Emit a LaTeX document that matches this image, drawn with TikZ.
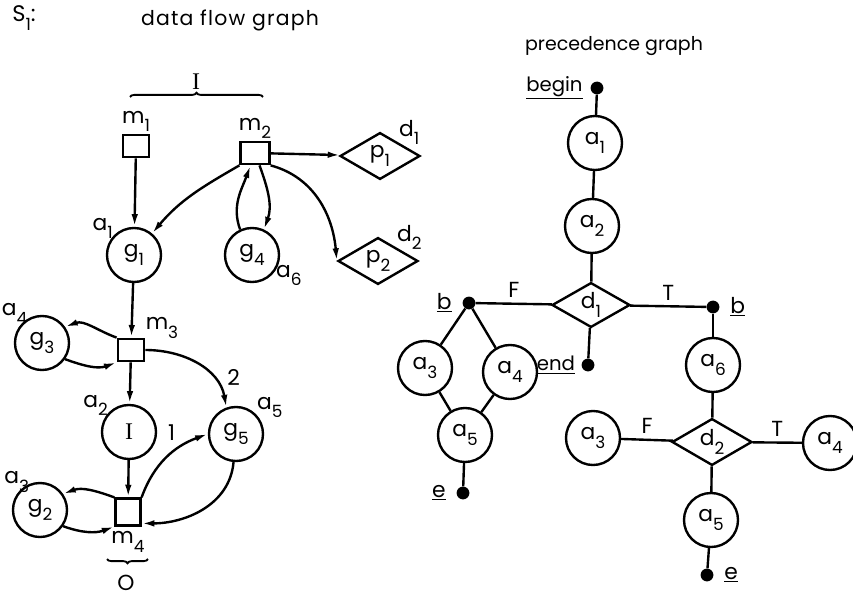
\documentclass[tikz,border=0pt]{standalone}
\usepackage{fontspec}
\setmainfont{Poppins}
\newfontfamily\romanfont{Liberation Serif}
\usetikzlibrary{arrows.meta,shapes.geometric,decorations.pathreplacing}
\newcommand{\ix}[2]{#1\raisebox{-0.7ex}{\fontsize{12}{13}\selectfont #2}}
\newcommand{\romI}{{\romanfont\fontsize{17}{18}\selectfont I}}

\begin{document}
\begin{tikzpicture}[
  x=0.025cm, y=-0.025cm,
  every node/.style={font=\fontsize{15.5}{17}\selectfont},
  heading/.style={font=\fontsize{14.5}{16}\selectfont\addfontfeatures{LetterSpace=6}},
  word/.style={font=\fontsize{14}{15}\selectfont},
  flow/.style={-{Latex[length=9pt,width=4.6pt]}, line width=1.7pt},
  link/.style={line width=1.7pt},
  op/.style={circle, draw, line width=1.7pt, minimum size=1.35cm, inner sep=0pt},
  mem/.style={rectangle, draw, line width=1.7pt, minimum width=0.66cm, minimum height=0.56cm, inner sep=0pt},
  test/.style={diamond, draw, line width=1.7pt, aspect=1.7, minimum width=2cm, minimum height=1.17cm, inner sep=0pt},
  dot/.style={circle, fill, inner sep=0pt, minimum size=0.32cm},
  brace/.style={decorate, decoration={brace, amplitude=3pt}, line width=1.3pt}
]
\useasboundingbox (0,0) rectangle (853,597);

\node[font=\fontsize{16}{17}\selectfont] (s1) at (24,18) {\ix{S}{1}:};
\node[heading] (dfg) at (230,20) {data flow graph};
\node[font=\fontsize{13.5}{16}\selectfont] (pg) at (614,46) {precedence graph};

% data flow graph
\node (inp) at (196,82) {\romI};
\draw[brace] (130,97) -- (263,97);

\node[mem, label={[label distance=-2pt]above:\ix{m}{1}}] (m1) at (136,146) {};
\node[mem, minimum width=0.72cm, label={[label distance=-2pt]above:\ix{m}{2}}] (m2) at (255,153) {};
\node[test, label={[label distance=-7pt]25:\ix{d}{1}}] (p1) at (380,156) {\ix{p}{1}};
\node[test, label={[label distance=-7pt]25:\ix{d}{2}}] (p2) at (378,261) {\ix{p}{2}};
\node[op, label={[label distance=-6pt]145:\ix{a}{1}}] (g1) at (134,255) {\ix{g}{1}};
\node[op, label={[label distance=-6pt]-15:\ix{a}{6}}] (g4) at (252,255) {\ix{g}{4}};
\node[mem, label={[label distance=-4pt]35:\ix{m}{3}}] (m3) at (131,350) {};
\node[op, label={[label distance=-8pt]125:\ix{a}{4}}] (g3) at (42,343) {\ix{g}{3}};
\node[op, label={[label distance=-6pt]145:\ix{a}{2}}] (ident) at (129,432) {\romI};
\node[op, label={[label distance=-6pt]35:\ix{a}{5}}] (g5) at (236,434) {\ix{g}{5}};
\node[mem, minimum width=0.62cm, minimum height=0.67cm, label={[label distance=0pt]below:\ix{m}{4}}] (m4) at (128,512) {};
\node[op, label={[label distance=-10pt]115:\ix{a}{3}}] (g2) at (40,510) {\ix{g}{2}};
\draw[brace] (148,559) -- (107,559);
\node[inner sep=0pt] (outp) at (126,583) {O};

\draw[flow] (m1) -- (g1);
\draw[flow] (m2.south west) to[out=210,in=50] (g1.50);
\draw[flow] (g4.115) to[out=110,in=250] (m2.250);
\draw[flow] (m2.290) to[out=-70,in=70] (g4.65);
\draw[flow] (m2) -- (p1);
\draw[flow] (m2.south east) to[out=-15,in=95] (p2.west);
\draw[flow] (g1) -- (m3);
\draw[flow] (m3.north west) to[out=160,in=20] (g3.35);
\draw[flow] (g3.-35) to[out=-20,in=200] (m3.south west);
\draw[flow] (m3) -- (ident);
\draw[flow] (m3.east) to[out=0,in=100] node[pos=0.85, above right] {2} (g5.110);
\draw[flow] (ident) -- (m4);
\draw[flow] (m4.north east) to[out=70,in=200] node[pos=0.7, above left] {1} (g5.west);
\draw[flow] (g5.265) to[out=-95,in=0] (m4.-40);
\draw[flow] (m4.north west) to[out=160,in=20] (g2.35);
\draw[flow] (g2.-35) to[out=-20,in=200] (m4.south west);

% precedence graph
\node[dot, label={[word, label distance=2pt]left:\underline{begin}}] (begin) at (597,88) {};
\node[op] (pa1) at (595,143) {\ix{a}{1}};
\node[op] (pa2) at (592,226) {\ix{a}{2}};
\node[test, minimum width=1.95cm, minimum height=1.12cm] (pd1) at (591,305) {\ix{d}{1}};
\node[dot, label={[label distance=4pt]left:\underline{b}}] (lb) at (469,303) {};
\node[dot, label={[label distance=4pt]right:\underline{b}}] (rb) at (713,307) {};
\node[dot, label={[word, label distance=1pt]left:\underline{end}}] (endpt) at (588,365) {};
\node[op] (la3) at (425,368) {\ix{a}{3}};
\node[op] (la4) at (510,372) {\ix{a}{4}};
\node[op] (la5) at (465,435) {\ix{a}{5}};
\node[dot, label={[label distance=4pt]left:\underline{e}}] (le) at (463,493) {};
\node[op] (ra6) at (713,365) {\ix{a}{6}};
\node[test] (pd2) at (712,442) {\ix{d}{2}};
\node[op] (ra3) at (593,438) {\ix{a}{3}};
\node[op] (ra4) at (830,443) {\ix{a}{4}};
\node[op] (ra5) at (711,520) {\ix{a}{5}};
\node[dot, label={[label distance=4pt]right:\underline{e}}] (re) at (707,575) {};

\draw[link] (begin) -- (pa1);
\draw[link] (pa1) -- (pa2);
\draw[link] (pa2) -- (pd1);
\draw[link] (pd1) -- node[above] {F} (lb);
\draw[link] (pd1) -- node[above] {T} (rb);
\draw[link] (pd1) -- (endpt);
\draw[link] (lb) -- (la3);
\draw[link] (lb) -- (la4);
\draw[link] (la3) -- (la5);
\draw[link] (la4) -- (la5);
\draw[link] (la5) -- (le);
\draw[link] (rb) -- (ra6);
\draw[link] (ra6) -- (pd2);
\draw[link] (pd2) -- node[above] {F} (ra3);
\draw[link] (pd2) -- node[above] {T} (ra4);
\draw[link] (pd2) -- (ra5);
\draw[link] (ra5) -- (re);
\end{tikzpicture}
\end{document}
